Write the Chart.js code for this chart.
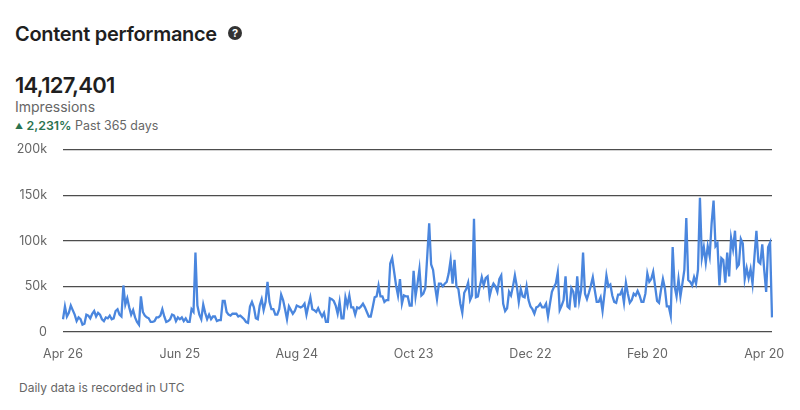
<!DOCTYPE html>
<html>
<head>
<meta charset="utf-8">
<title>Content performance</title>
<script src="https://cdn.jsdelivr.net/npm/chart.js@4"></script>
<style>
  html, body { margin: 0; padding: 0; background: #fff; }
  body { width: 800px; height: 410px; position: relative; overflow: hidden; font-family: Inter, "Liberation Sans", sans-serif; color: #1f1f1f; }
  .txt { position: absolute; white-space: nowrap; line-height: 1; }
  #title { left: 15px; top: 24px; font-size: 20px; font-weight: 600; letter-spacing: -0.3px; }
  #help { position: absolute; left: 228px; top: 26px; width: 14px; height: 14px; border-radius: 50%; background: #333; color: #fff; font-size: 11px; font-weight: 700; line-height: 14px; text-align: center; }
  #total { left: 15px; top: 74px; font-size: 22px; font-weight: 600; letter-spacing: -0.7px; }
  #metric { left: 15px; top: 100px; font-size: 14px; color: #666; }
  #change { left: 15px; top: 120px; font-size: 12.4px; color: #666; }
  #change b { color: #2a7350; font-weight: 600; }
  #change i { color: #2a7350; font-style: normal; font-size: 8px; vertical-align: 1px; }
  #note { left: 19px; top: 382px; font-size: 12px; color: #666; }
  #chartWrap { position: absolute; left: 0; top: 126px; width: 800px; height: 244px; }
</style>
</head>
<body>
<div class="txt" id="title">Content performance</div>
<div id="help">?</div>
<div class="txt" id="total">14,127,401</div>
<div class="txt" id="metric">Impressions</div>
<div class="txt" id="change"><i>▲</i> <b>2,231%</b> Past 365 days</div>
<div id="chartWrap"><canvas id="impressionsChart"></canvas></div>
<div class="txt" id="note">Daily data is recorded in UTC</div>

<script>
// Daily impressions in thousands, one list per 60 days
const aprToJun = [14,28,17,21,29,24,19,12,16,14,8,9,19,18,15,20,23,17,21,19,14,12,16,15,18,14,15,23,25,19,17,51,30,37,27,19,24,16,11,8,39,22,18,16,15,11,11,12,16,16,18,25,17,11,12,14,19,18,12,16];
const junToAug = [14,16,12,15,11,11,25,22,87,29,19,14,30,21,14,19,14,17,17,12,13,13,34,34,22,19,18,20,20,20,17,18,16,14,11,10,28,33,27,15,14,29,36,24,33,55,33,25,25,19,19,25,41,35,25,14,28,24,20,23];
const augToOct = [29,28,27,28,31,19,29,38,25,24,22,26,21,17,21,11,11,37,36,34,29,20,33,15,15,38,29,40,27,27,19,27,26,28,31,27,22,17,17,27,38,39,51,39,39,33,35,35,75,81,66,51,40,58,31,40,39,39,29,29];
const octToDec = [67,39,53,69,40,42,48,83,119,74,68,50,36,53,53,50,53,55,64,79,53,79,50,47,31,21,43,47,54,35,40,124,38,39,50,60,51,59,61,39,48,53,50,44,58,62,31,23,26,44,40,50,62,50,33,47,39,38,50,35];
const decToFeb = [28,25,20,27,28,31,27,27,31,17,31,44,49,53,65,24,29,35,61,28,26,48,44,27,61,34,46,87,42,36,43,51,60,46,33,33,38,23,42,62,50,52,40,33,32,41,41,46,32,54,42,32,35,42,40,45,40,33,33,42];
const febToApr = [64,55,58,66,50,34,32,46,58,48,28,28,18,93,50,39,58,39,53,68,125,57,55,51,60,53,68,147,81,93,76,94,83,119,144,94,97,51,81,79,54,87,61,103,91,111,71,74,102,97,58,70,59,69,53,83,111,77,75,96,68,44,93,98,16];
const impressions = [...aprToJun, ...junToAug, ...augToOct, ...octToDec, ...decToFeb, ...febToApr];

const tickLabels = ['Apr 26', 'Jun 25', 'Aug 24', 'Oct 23', 'Dec 22', 'Feb 20', 'Apr 20'];
const daysPerTick = 60;

const yTicks = [0, 50, 100, 150, 200];

// only every 60th day carries a label
const days = impressions.map((v, i) => (i % daysPerTick === 0 ? tickLabels[i / daysPerTick] : ''));

const axisFont = { family: 'Inter, "Liberation Sans", sans-serif', size: 12.5 };

new Chart(document.getElementById('impressionsChart'), {
  type: 'line',
  data: {
    labels: days,
    datasets: [{
      label: 'Impressions',
      data: impressions,
      borderColor: '#4a86de',
      borderWidth: 2.3,
      pointRadius: 0,
      tension: 0
    }]
  },
  options: {
    responsive: true,
    maintainAspectRatio: false,
    animation: false,
    layout: { padding: { top: 9, right: 28, left: 0, bottom: 0 } },
    plugins: { legend: { display: false }, tooltip: { enabled: false } },
    scales: {
      x: {
        offset: false,
        grid: { display: false },
        border: { display: false },
        afterFit: (scale) => { scale.height = 38; },
        ticks: {
          autoSkip: false,
          maxRotation: 0,
          color: '#666',
          font: axisFont,
          padding: 7,
          callback: function (value) { return this.getLabelForValue(value) || null; }
        }
      },
      y: {
        min: 0,
        max: 200,
        afterFit: (scale) => { scale.width = 63; },
        afterBuildTicks: (scale) => { scale.ticks = yTicks.map(v => ({ value: v })); },
        border: { display: false },
        grid: { color: '#4d4d4d', lineWidth: 1.2, drawTicks: false },
        ticks: {
          color: '#666',
          font: axisFont,
          padding: 16,
          callback: (v) => (v === 0 ? '0' : v + 'k')
        }
      }
    }
  }
});
</script>
</body>
</html>
